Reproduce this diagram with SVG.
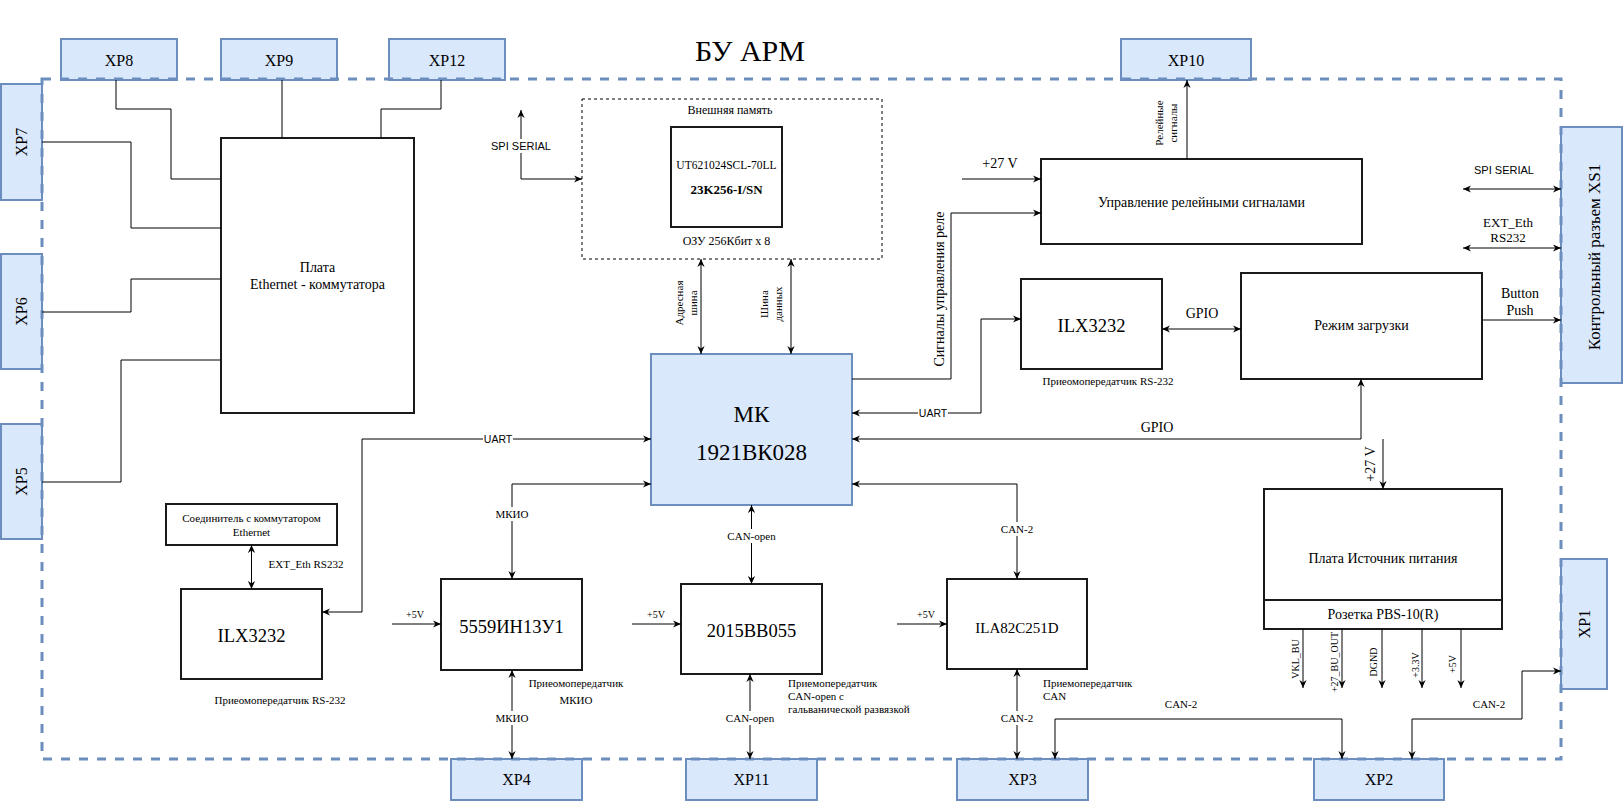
<svg xmlns="http://www.w3.org/2000/svg" width="1623" height="801" viewBox="0 0 1623 801">
<defs>
<style>
.serif{font-family:"Liberation Serif","Times New Roman",serif;fill:#000}
.sans{font-family:"Liberation Sans",Arial,sans-serif;fill:#000}
.blue{fill:#dae8fc;stroke:#6c8ebf;stroke-width:2}
.box{fill:#fff;stroke:#1a1a1a;stroke-width:2}
.ln{fill:none;stroke:#000;stroke-width:1}
.arr{marker-end:url(#arr)}
.bi{marker-start:url(#arr);marker-end:url(#arr)}
.bg{fill:#fff}
text{dominant-baseline:central}
.c{text-anchor:middle}
.s11{font-size:11px}
.s10{font-size:10px}
.s14{font-size:14px}
.big{font-size:18.5px}
.xp{font-size:16px}
</style>
<marker id="arr" viewBox="0 0 10 10" refX="10" refY="5" markerWidth="8" markerHeight="8" markerUnits="userSpaceOnUse" orient="auto-start-reverse">
<path d="M0,0.5 L10,5 L0,9.5 L3,5 z" fill="#000"/>
</marker>
</defs>
<rect width="1623" height="801" fill="#fff"/>

<g id="title"><text class="serif c" x="750" y="50" font-size="30">БУ АРМ</text></g>

<!-- connector blocks -->
<g id="xp8"><rect class="blue" x="61" y="39" width="116" height="41"/><text class="serif c xp" x="119" y="60">XP8</text></g>
<g id="xp9"><rect class="blue" x="221" y="39" width="116" height="41"/><text class="serif c xp" x="279" y="60">XP9</text></g>
<g id="xp12"><rect class="blue" x="389" y="39" width="116" height="41"/><text class="serif c xp" x="447" y="60">XP12</text></g>
<g id="xp10"><rect class="blue" x="1121" y="39" width="130" height="41"/><text class="serif c xp" x="1186" y="60">XP10</text></g>
<g id="xp7"><rect class="blue" x="1" y="84" width="41" height="116"/><text class="serif c xp" x="21.5" y="142" transform="rotate(-90 21.5 142)">XP7</text></g>
<g id="xp6"><rect class="blue" x="1" y="254" width="41" height="115"/><text class="serif c xp" x="21.5" y="311.5" transform="rotate(-90 21.5 311.5)">XP6</text></g>
<g id="xp5"><rect class="blue" x="1" y="424" width="41" height="115"/><text class="serif c xp" x="21.5" y="481.5" transform="rotate(-90 21.5 481.5)">XP5</text></g>
<g id="xs1"><rect class="blue" x="1561" y="127" width="61" height="256"/><text class="serif c" font-size="17" x="1594" y="257" transform="rotate(-90 1594 257)">Контрольный разъем XS1</text></g>
<g id="xp1"><rect class="blue" x="1561" y="559" width="46" height="130"/><text class="serif c xp" x="1584" y="624" transform="rotate(-90 1584 624)">XP1</text></g>
<g id="xp4"><rect class="blue" x="451" y="759" width="131" height="41"/><text class="serif c xp" x="516.5" y="779.5">XP4</text></g>
<g id="xp11"><rect class="blue" x="686" y="759" width="131" height="41"/><text class="serif c xp" x="751.5" y="779.5">XP11</text></g>
<g id="xp3"><rect class="blue" x="957" y="759" width="131" height="41"/><text class="serif c xp" x="1022.5" y="779.5">XP3</text></g>
<g id="xp2"><rect class="blue" x="1314" y="759" width="130" height="41"/><text class="serif c xp" x="1379" y="779.5">XP2</text></g>

<g id="border"><rect x="42" y="79" width="1519" height="680" fill="none" stroke="#6c8ebf" stroke-width="3" stroke-dasharray="9 9"/></g>

<!-- inner nodes -->
<g id="eth-board"><rect class="box" x="221" y="138" width="193" height="275"/><text class="serif c s14" x="317.5" y="267">Плата</text><text class="serif c s14" x="317.5" y="284">Ethernet - коммутатора</text></g>

<g id="ext-mem"><rect x="582" y="99" width="300" height="160" fill="none" stroke="#000" stroke-width="1" stroke-dasharray="3 3"/><text class="serif c" font-size="12" x="730" y="110">Внешняя память</text><text class="serif c" font-size="12" x="726.5" y="241">ОЗУ 256Кбит х 8</text></g>
<g id="ram"><rect class="box" x="671" y="127" width="111" height="100"/><text class="serif c" font-size="11.5" x="726.5" y="165">UT621024SCL-70LL</text><text class="serif c" font-size="13" font-weight="bold" x="726.5" y="189">23K256-I/SN</text></g>

<g id="mk"><rect x="651" y="354" width="201" height="151" fill="#dae8fc" stroke="#6c8ebf" stroke-width="2"/><text class="serif c" font-size="23" x="751.5" y="414">МК</text><text class="serif c" font-size="23" x="751.5" y="452">1921ВК028</text></g>

<g id="relay"><rect class="box" x="1041" y="159" width="321" height="85"/><text class="serif c s14" x="1201.5" y="202">Управление релейными сигналами</text></g>

<g id="ilx-top"><rect class="box" x="1021" y="279" width="141" height="90"/><text class="serif c big" x="1091.5" y="326">ILX3232</text><text class="serif c s11" x="1108" y="381">Приеомопередатчик RS-232</text></g>

<g id="boot"><rect class="box" x="1241" y="273" width="241" height="106"/><text class="serif c s14" x="1361.5" y="325">Режим загрузки</text></g>

<g id="power"><rect class="box" x="1264" y="489" width="238" height="140"/><line x1="1264" y1="600" x2="1502" y2="600" stroke="#1a1a1a" stroke-width="2"/><text class="serif c s14" x="1383" y="558">Плата Источник питания</text><text class="serif c s14" x="1383" y="614">Розетка PBS-10(R)</text></g>

<g id="eth-conn"><rect class="box" x="166" y="504" width="171" height="41"/><text class="serif c s11" x="251.5" y="518">Соединитель с коммутатором</text><text class="serif c s11" x="251.5" y="532">Ethernet</text></g>

<g id="ilx-bottom"><rect class="box" x="181" y="589" width="141" height="90"/><text class="serif c big" x="251.5" y="636">ILX3232</text><text class="serif c s11" x="280" y="700">Приеомопередатчик RS-232</text></g>

<g id="mkio-tr"><rect class="box" x="441" y="579" width="141" height="91"/><text class="serif c big" x="511.5" y="627">5559ИН13У1</text><text class="serif c s11" x="576" y="683">Приеомопередатчик</text><text class="serif c s11" x="576" y="700">МКИО</text></g>

<g id="canopen-tr"><rect class="box" x="681" y="584" width="141" height="90"/><text class="serif c big" x="751.5" y="631">2015ВВ055</text><text class="serif s11" x="788" y="683">Приемопередатчик</text><text class="serif s11" x="788" y="696">CAN-open с</text><text class="serif s11" x="788" y="709">гальванической развязкой</text></g>

<g id="can-tr"><rect class="box" x="947" y="579" width="140" height="90"/><text class="serif c" font-size="15" x="1017" y="628">ILA82C251D</text><text class="serif s11" x="1043" y="683">Приемопередатчик</text><text class="serif s11" x="1043" y="696">CAN</text></g>

<!-- connectors -->
<g id="connectors">
<polyline class="ln" points="116,80 116,109 171,109 171,179 221,179"/>
<polyline class="ln" points="282,80 282,138"/>
<polyline class="ln" points="441,80 441,109 381,109 381,138"/>
<polyline class="ln" points="42,142 131,142 131,228 221,228"/>
<polyline class="ln" points="42,312 131,312 131,279 221,279"/>
<polyline class="ln" points="42,482 121,482 121,360 221,360"/>

<polyline class="ln bi" points="521,110 521,179 582,179"/>
<rect class="bg" x="490" y="139" width="62" height="14"/>
<text class="sans c s11" x="521" y="146">SPI SERIAL</text>

<line class="ln bi" x1="701" y1="259" x2="701" y2="354"/>
<line class="ln bi" x1="791" y1="259" x2="791" y2="354"/>
<text class="serif c s11" transform="rotate(-90 686 303)" x="686" y="303"><tspan x="686" dy="-7">Адресная</tspan><tspan x="686" dy="14">шина</tspan></text>
<text class="serif c s11" transform="rotate(-90 771 304)" x="771" y="304"><tspan x="771" dy="-7">Шина</tspan><tspan x="771" dy="14">данных</tspan></text>

<line class="ln arr" x1="962" y1="179" x2="1041" y2="179"/>
<text class="serif c s14" x="1000" y="163">+27 V</text>

<polyline class="ln arr" points="852,379 951,379 951,213 1041,213"/>
<text class="serif c s14" transform="rotate(-90 939 289)" x="939" y="289">Сигналы управления реле</text>

<line class="ln arr" x1="1187" y1="159" x2="1187" y2="80"/>
<text class="serif c s11" transform="rotate(-90 1166 123)" x="1166" y="123"><tspan x="1166" dy="-7">Релейные</tspan><tspan x="1166" dy="14">сигналы</tspan></text>

<polyline class="ln bi" points="852,413 981,413 981,319 1021,319"/>
<rect class="bg" x="918" y="406" width="30" height="14"/>
<text class="sans c" font-size="10.5" x="933" y="413">UART</text>

<line class="ln bi" x1="1162" y1="329" x2="1241" y2="329"/>
<text class="serif c s14" x="1202" y="313">GPIO</text>

<polyline class="ln bi" points="852,439 1361,439 1361,379"/>
<text class="serif c s14" x="1157" y="427">GPIO</text>

<line class="ln arr" x1="1383" y1="439" x2="1383" y2="489"/>
<text class="serif c s14" transform="rotate(-90 1370 464)" x="1370" y="464">+27 V</text>

<line class="ln arr" x1="1482" y1="320" x2="1561" y2="320"/>
<text class="serif c s14" x="1520" y="293">Button</text>
<text class="serif c s14" x="1520" y="310">Push</text>

<line class="ln bi" x1="1463" y1="189" x2="1561" y2="189"/>
<text class="sans c s11" x="1504" y="170">SPI SERIAL</text>
<line class="ln bi" x1="1463" y1="248" x2="1561" y2="248"/>
<text class="serif c" font-size="13" x="1508" y="222">EXT_Eth</text>
<text class="serif c" font-size="13" x="1508" y="237">RS232</text>

<polyline class="ln bi" points="651,439 362,439 362,612 322,612"/>
<rect class="bg" x="483" y="432" width="30" height="14"/>
<text class="sans c" font-size="10.5" x="498" y="439">UART</text>

<line class="ln bi" x1="251.5" y1="545" x2="251.5" y2="589"/>
<text class="serif c s11" x="306" y="564">EXT_Eth RS232</text>

<polyline class="ln bi" points="651,484 512,484 512,579"/>
<rect class="bg" x="494" y="507" width="36" height="14"/>
<text class="serif c s11" x="512" y="514">МКИО</text>

<line class="ln arr" x1="392" y1="624" x2="441" y2="624"/>
<text class="serif c s10" x="415" y="614">+5V</text>
<line class="ln arr" x1="632" y1="624" x2="681" y2="624"/>
<text class="serif c s10" x="656" y="614">+5V</text>
<line class="ln arr" x1="897" y1="624" x2="947" y2="624"/>
<text class="serif c s10" x="926" y="614">+5V</text>

<line class="ln bi" x1="512" y1="670" x2="512" y2="759"/>
<rect class="bg" x="494" y="711" width="36" height="14"/>
<text class="serif c s11" x="512" y="718">МКИО</text>

<line class="ln bi" x1="751.5" y1="505" x2="751.5" y2="584"/>
<rect class="bg" x="726" y="529" width="51" height="14"/>
<text class="serif c s11" x="751.5" y="536">CAN-open</text>

<line class="ln bi" x1="750" y1="674" x2="750" y2="759"/>
<rect class="bg" x="725" y="711" width="51" height="14"/>
<text class="serif c s11" x="750" y="718">CAN-open</text>

<polyline class="ln bi" points="852,484 1017,484 1017,579"/>
<rect class="bg" x="1000" y="522" width="34" height="14"/>
<text class="serif c s11" x="1017" y="529">CAN-2</text>

<line class="ln bi" x1="1017" y1="669" x2="1017" y2="759"/>
<rect class="bg" x="1000" y="711" width="34" height="14"/>
<text class="serif c s11" x="1017" y="718">CAN-2</text>

<polyline class="ln bi" points="1055,759 1055,719 1342,719 1342,759"/>
<text class="serif c s11" x="1181" y="704">CAN-2</text>

<polyline class="ln bi" points="1412,759 1412,719 1522,719 1522,671 1561,671"/>
<text class="serif c s11" x="1489" y="704">CAN-2</text>

<line class="ln arr" x1="1303" y1="629" x2="1303" y2="688"/>
<line class="ln arr" x1="1342" y1="629" x2="1342" y2="688"/>
<line class="ln arr" x1="1382" y1="629" x2="1382" y2="688"/>
<line class="ln arr" x1="1422" y1="629" x2="1422" y2="688"/>
<line class="ln arr" x1="1461" y1="629" x2="1461" y2="688"/>
<text class="serif c s10" transform="rotate(-90 1295.5 659)" x="1295.5" y="659">VKL_BU</text>
<text class="serif c s10" transform="rotate(-90 1334 662)" x="1334" y="662">+27_BU_OUT</text>
<text class="serif c s10" transform="rotate(-90 1373 662)" x="1373" y="662">DGND</text>
<text class="serif c s10" transform="rotate(-90 1415 665)" x="1415" y="665">+3.3V</text>
<text class="serif c s10" transform="rotate(-90 1452 664)" x="1452" y="664">+5V</text>
</g>
</svg>
